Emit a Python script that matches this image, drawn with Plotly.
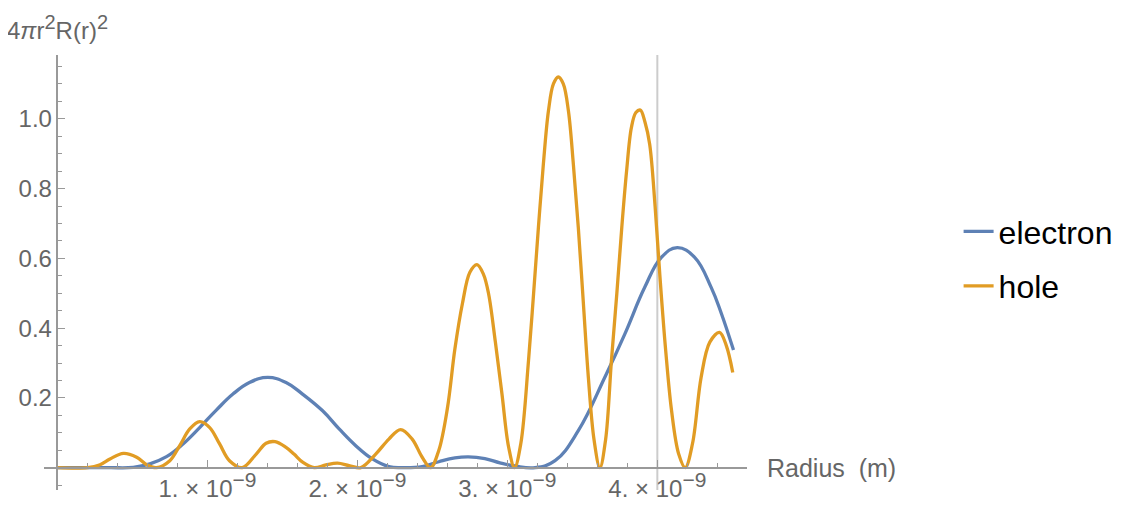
import plotly.graph_objects as go

# radio en nm (se convierte a metros al dibujar)
r_electron = [0.0, 0.2, 0.35, 0.505, 0.616, 0.727, 0.837, 0.948, 1.059, 1.17, 1.28, 1.402,
              1.524, 1.634, 1.768, 1.878, 1.989, 2.1, 2.21, 2.3, 2.432, 2.543, 2.65, 2.74,
              2.85, 2.95, 3.05, 3.185, 3.318, 3.473, 3.65, 3.783, 3.916, 4.027, 4.133,
              4.249, 4.359, 4.427, 4.508]
p_electron = [0.0, 0.0, 0.0, 0.001, 0.011, 0.0315, 0.068, 0.115, 0.165, 0.211, 0.244, 0.259,
              0.244, 0.211, 0.163, 0.111, 0.063, 0.025, 0.003, 0.0, 0.003, 0.017, 0.028, 0.031,
              0.026, 0.014, 0.005, 0.0, 0.02, 0.106, 0.259, 0.383, 0.517, 0.603, 0.631,
              0.603, 0.517, 0.442, 0.337]

r_hole = [0.0, 0.2, 0.284, 0.35, 0.44, 0.528, 0.594, 0.66, 0.749, 0.815, 0.882, 0.948,
          1.015, 1.081, 1.147, 1.232, 1.325, 1.391, 1.451, 1.524, 1.577, 1.637, 1.712,
          1.79, 1.867, 1.945, 2.023, 2.122, 2.21, 2.288, 2.365, 2.432, 2.488,
          2.543, 2.6, 2.65, 2.7, 2.75, 2.797, 2.84, 2.875, 2.92, 2.964, 3.008, 3.048,
          3.09, 3.141, 3.175, 3.207, 3.24, 3.274, 3.307, 3.34, 3.373, 3.407, 3.44, 3.473,
          3.507, 3.54, 3.578, 3.617,
          3.655, 3.694, 3.73, 3.763, 3.795, 3.827, 3.857, 3.887, 3.918, 3.949, 3.985,
          4.018, 4.055, 4.095, 4.142, 4.186,
          4.235, 4.292, 4.35, 4.415, 4.46, 4.503]
p_hole = [0.0, 0.0, 0.0086, 0.025, 0.041, 0.03, 0.0086, 0.0, 0.02, 0.063, 0.111, 0.132,
          0.115, 0.068, 0.02, 0.0, 0.039, 0.07, 0.0745, 0.058, 0.039, 0.015, 0.0,
          0.008, 0.013, 0.006, 0.0, 0.039, 0.082, 0.109, 0.082, 0.03, 0.0,
          0.05, 0.17, 0.34, 0.47, 0.56, 0.582, 0.555, 0.498, 0.36, 0.211, 0.06, 0.0,
          0.07, 0.307, 0.5, 0.689, 0.87, 1.023, 1.1, 1.12, 1.1, 1.023, 0.87, 0.689,
          0.47, 0.259, 0.08, 0.0,
          0.08, 0.307, 0.5, 0.689, 0.85, 0.975, 1.018, 1.025, 0.99, 0.927, 0.75,
          0.545, 0.34, 0.163, 0.04, 0.0,
          0.07, 0.259, 0.36, 0.388, 0.35, 0.273]

sup = "<sup><span style='font-size:21px'>−9</span></sup>"
xtick_vals = [1e-9, 2e-9, 3e-9, 4e-9]
xtick_text = ["1. × 10" + sup, "2. × 10" + sup, "3. × 10" + sup, "4. × 10" + sup]
ytick_vals = [0.2, 0.4, 0.6, 0.8, 1.0]
ytick_text = ["0.2", "0.4", "0.6", "0.8", "1.0"]
linea_r = 4e-9

x_range = [-0.09e-9, 4.598e-9]
y_range = [-0.064, 1.183]

gris = "#666666"
eje = "#999999"
fuente = "Liberation Sans, Arial, sans-serif"

fig = go.Figure()
fig.add_trace(go.Scatter(x=[v * 1e-9 for v in r_electron], y=p_electron, mode="lines",
                         name="electron", legendgroup="e",
                         line=dict(color="#5E81B5", width=3.3, shape="spline", smoothing=1.2)))
fig.add_trace(go.Scatter(x=[v * 1e-9 for v in r_hole], y=p_hole, mode="lines",
                         name="hole", legendgroup="h",
                         line=dict(color="#E19C24", width=3.3, shape="spline", smoothing=1)))

# posicion de los ejes cruzando en el origen
pos_x = (0 - y_range[0]) / (y_range[1] - y_range[0])
pos_y = (0 - x_range[0]) / (x_range[1] - x_range[0])

fig.add_shape(type="line", xref="x", yref="paper", x0=linea_r, x1=linea_r, y0=0, y1=1,
              line=dict(color="#cccccc", width=2), layer="below")

# la pagina tiene 8px de margen en el body, se descuenta aqui
fig.update_layout(
    width=1122, height=511,
    margin=dict(l=36, r=381, t=47, b=29),
    plot_bgcolor="white", paper_bgcolor="white",
    font=dict(family=fuente, color=gris, size=24),
    showlegend=True,
    legend=dict(x=1.301, xanchor="left", y=0.531, yanchor="middle",
                font=dict(size=32, color="black", family=fuente),
                traceorder="grouped", tracegroupgap=10, bgcolor="rgba(0,0,0,0)"),
    xaxis=dict(range=x_range, anchor="free", position=pos_x, automargin=False,
               showgrid=False, zeroline=False,
               showline=True, linecolor=eje, linewidth=1.5,
               tickmode="array", tickvals=xtick_vals, ticktext=xtick_text,
               ticks="inside", ticklen=7, tickcolor=eje, tickwidth=1,
               tickfont=dict(size=24, color=gris),
               minor=dict(tickmode="linear", tick0=0, dtick=0.2e-9, ticks="inside",
                          ticklen=4, tickcolor=eje)),
    yaxis=dict(range=y_range, anchor="free", position=pos_y, automargin=False,
               showgrid=False, zeroline=False,
               showline=True, linecolor=eje, linewidth=1.5,
               tickmode="array", tickvals=ytick_vals, ticktext=ytick_text,
               ticks="inside", ticklen=7, tickcolor=eje, tickwidth=1,
               tickfont=dict(size=24, color=gris),
               minor=dict(tickmode="linear", tick0=0, dtick=0.05, ticks="inside",
                          ticklen=4, tickcolor=eje)),
)

fig.add_annotation(text="Radius  (m)", xref="paper", yref="y", x=1, y=0, xanchor="left",
                   yanchor="middle", xshift=18, showarrow=False,
                   font=dict(size=25, color=gris))
fig.add_annotation(text="4<i>π</i>r<sup><span style='font-size:20px'>2</span></sup>"
                        "R(r)<sup><span style='font-size:20px'>2</span></sup>",
                   xref="paper", yref="paper",
                   x=pos_y, y=1, xanchor="center", yanchor="bottom", yshift=9,
                   showarrow=False, font=dict(size=24, color=gris))

fig.write_html("out.html")
